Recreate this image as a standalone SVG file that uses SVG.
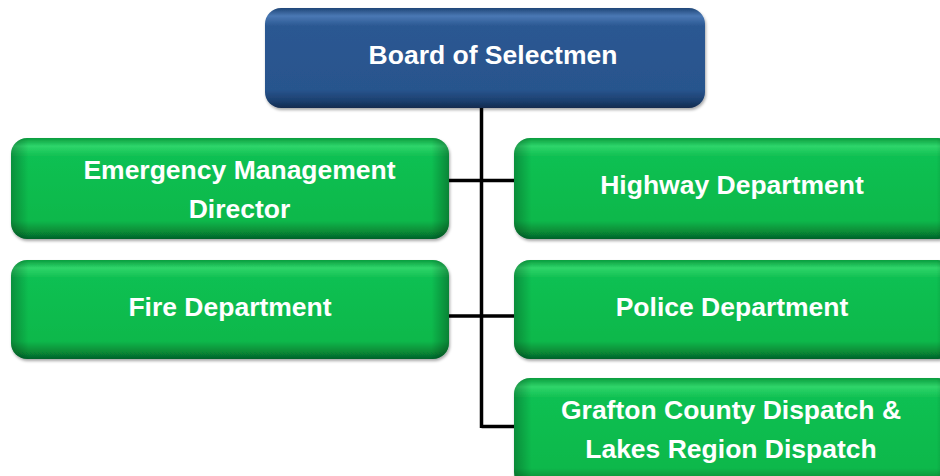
<svg xmlns="http://www.w3.org/2000/svg" width="940" height="476" viewBox="0 0 940 476">
<defs>
<linearGradient id="gG" x1="0" y1="0" x2="0" y2="1">
<stop offset="0" stop-color="#0a9c3e"/>
<stop offset="0.08" stop-color="#2fd56a"/>
<stop offset="0.18" stop-color="#10c052"/>
<stop offset="0.82" stop-color="#0bb84b"/>
<stop offset="0.93" stop-color="#078a36"/>
<stop offset="1" stop-color="#05622a"/>
</linearGradient>
<linearGradient id="gGx" x1="0" y1="0" x2="1" y2="0">
<stop offset="0" stop-color="#000" stop-opacity="0.25"/>
<stop offset="0.04" stop-color="#000" stop-opacity="0"/>
<stop offset="0.96" stop-color="#000" stop-opacity="0"/>
<stop offset="1" stop-color="#000" stop-opacity="0.3"/>
</linearGradient>
<linearGradient id="gB" x1="0" y1="0" x2="0" y2="1">
<stop offset="0" stop-color="#1f4677"/>
<stop offset="0.08" stop-color="#4a78b4"/>
<stop offset="0.18" stop-color="#2b5892"/>
<stop offset="0.82" stop-color="#28548d"/>
<stop offset="0.93" stop-color="#1c3f6e"/>
<stop offset="1" stop-color="#122b4f"/>
</linearGradient>
<filter id="sh" x="-5%" y="-10%" width="110%" height="130%">
<feGaussianBlur in="SourceAlpha" stdDeviation="1.5"/>
<feOffset dx="1" dy="2"/>
<feComponentTransfer><feFuncA type="linear" slope="0.35"/></feComponentTransfer>
<feMerge><feMergeNode/><feMergeNode in="SourceGraphic"/></feMerge>
</filter>
</defs>
<style>
.g{fill:url(#gG);filter:url(#sh)}
.gx{fill:url(#gGx)}
.b{fill:url(#gB);filter:url(#sh)}
.t{font-family:"Liberation Sans",Arial,sans-serif;font-weight:bold;font-size:26.5px;fill:#fff;text-anchor:middle}
.c{stroke:#000;stroke-width:3.5;fill:none}
</style>
<g id="connectors">
<path class="c" d="M481.5 106V428M449 180.5H514M449 316H514M481.5 426.5H514"/>
</g>
<g id="board">
<rect class="b" x="265" y="8" width="440" height="100" rx="16"/>
<text class="t" x="493" y="64">Board of Selectmen</text>
</g>
<g id="emd">
<rect class="g" x="11" y="138" width="438" height="101" rx="16"/>
<rect class="gx" x="11" y="138" width="438" height="101" rx="16"/>
<text class="t" x="239.5" y="179">Emergency Management</text>
<text class="t" x="239.5" y="218">Director</text>
</g>
<g id="fire">
<rect class="g" x="11" y="260" width="438" height="99" rx="16"/>
<rect class="gx" x="11" y="260" width="438" height="99" rx="16"/>
<text class="t" x="230" y="316">Fire Department</text>
</g>
<g id="highway">
<rect class="g" x="514" y="138" width="440" height="101" rx="16"/>
<rect class="gx" x="514" y="138" width="440" height="101" rx="16"/>
<text class="t" x="732" y="194">Highway Department</text>
</g>
<g id="police">
<rect class="g" x="514" y="260" width="440" height="99" rx="16"/>
<rect class="gx" x="514" y="260" width="440" height="99" rx="16"/>
<text class="t" x="732" y="316">Police Department</text>
</g>
<g id="dispatch">
<rect class="g" x="514" y="378" width="440" height="110" rx="16"/>
<rect class="gx" x="514" y="378" width="440" height="110" rx="16"/>
<text class="t" x="731" y="419">Grafton County Dispatch &amp;</text>
<text class="t" x="731" y="458">Lakes Region Dispatch</text>
</g>
</svg>
